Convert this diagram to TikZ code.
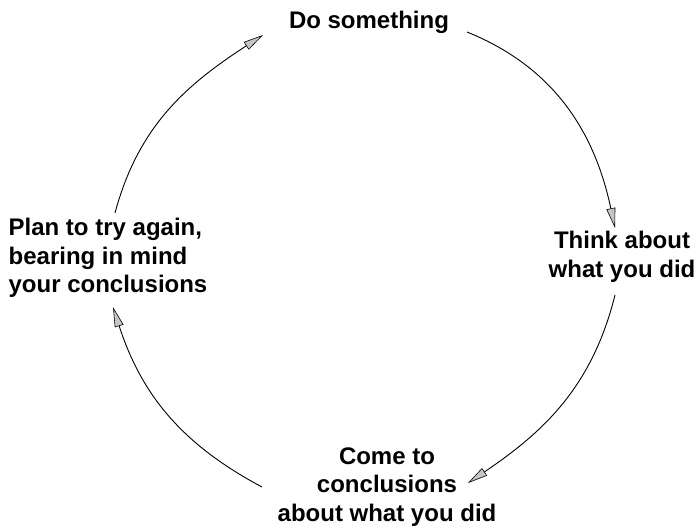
\documentclass[tikz,border=0pt]{standalone}
\usepackage{fontspec}
\setmainfont{Liberation Sans}
\usetikzlibrary{arrows.meta}

\begin{document}
\begin{tikzpicture}[x=1pt,y=1pt,line width=0.9pt,
  stage/.style={align=center,inner sep=2pt,font=\bfseries\fontsize{24}{28.5}\selectfont},
  loop arrow/.style={-{Triangle[length=20pt,width=9pt,fill=gray!45,line width=0.6pt]}}]
  \useasboundingbox (0,0) rectangle (696,532);

  \node[stage,anchor=base] (do) at (369,503) {Do something};
  \node[stage] (think) at (622,275) {Think about\\what you did};
  \node[stage] (come) at (387,45) {Come to\\conclusions\\about what you did};
  \node[stage,align=left] (plan) at (108,274) {Plan to try again,\\bearing in mind\\your conclusions};

  \path[loop arrow]
    ([shift={(98,-3)}]do.base) edge[out=-22,in=102] ([shift={(-7,29)}]think.center)
    ([shift={(-7,-38)}]think.center) edge[out=256,in=34] ([shift={(81,4)}]come.center)
    ([shift={(-125,0)}]come.center) edge[out=152,in=-72] ([shift={(5,-49)}]plan.center)
    ([shift={(7,45)}]plan.center) edge[out=75,in=213] ([shift={(-106,-6)}]do.base);
\end{tikzpicture}
\end{document}
